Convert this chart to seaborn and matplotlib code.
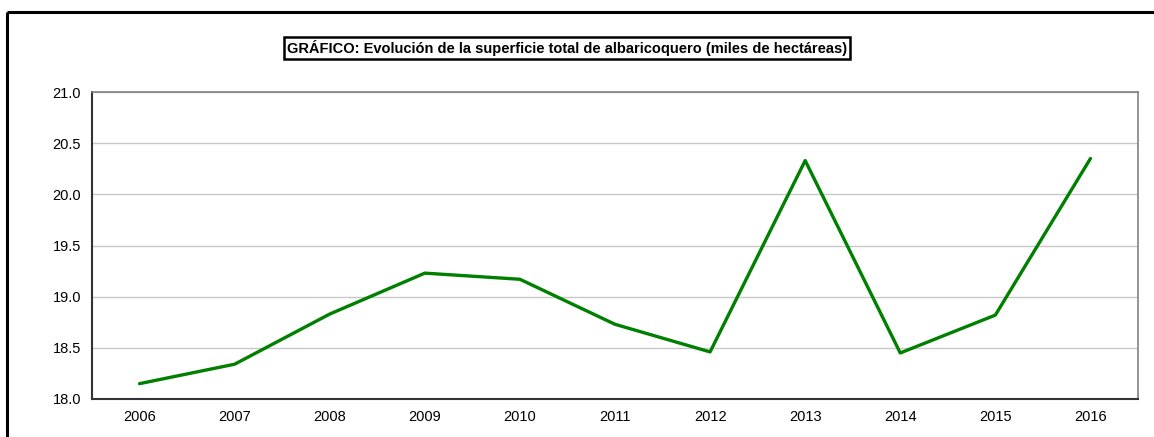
import numpy as np
import pandas as pd
import matplotlib
matplotlib.use("Agg")
import matplotlib.pyplot as plt
import seaborn as sns
from matplotlib.lines import Line2D

# data
years = [2006, 2007, 2008, 2009, 2010, 2011, 2012, 2013, 2014, 2015, 2016]
superficie = [18.15, 18.34, 18.83, 19.23, 19.17, 18.73, 18.46, 20.33, 18.45, 18.82, 20.35]
y_ticks = [18.0, 18.5, 19.0, 19.5, 20.0, 20.5, 21.0]

df = pd.DataFrame({"year": years, "superficie": superficie})

sns.set_style("white")
plt.rcParams['font.family'] = ['Liberation Sans', 'DejaVu Sans']

fig = plt.figure(figsize=(11.54, 4.37), dpi=100)
ax = fig.add_axes([92 / 1154, 38 / 437, 1046 / 1154, 307 / 437])

# outer frame, cropped at right and bottom: only top and left edges visible
frame_x = 7 / 1154
frame_y = 1 - 12 / 437
fig.add_artist(Line2D([frame_x, 1.05], [frame_y, frame_y], transform=fig.transFigure,
                      color="black", linewidth=2.2, solid_capstyle="butt"))
fig.add_artist(Line2D([frame_x, frame_x], [-0.05, frame_y], transform=fig.transFigure,
                      color="black", linewidth=2.2, solid_capstyle="butt"))

sns.lineplot(data=df, x="year", y="superficie", color="#008000", linewidth=2.4, ax=ax)

ax.set_xlim(years[0] - 0.5, years[-1] + 0.5)
ax.set_ylim(18.0, 21.0)
ax.set_yticks(y_ticks)
ax.set_yticklabels([f"{v:.1f}" for v in y_ticks], fontsize=10.5, color="black")
ax.set_xticks(years)
ax.set_xticklabels([str(y) for y in years], fontsize=10.5, color="black")
ax.set_xticks(np.arange(years[0] - 0.5, years[-1] + 1, 1), minor=True)
ax.tick_params(axis="x", which="major", length=0, pad=8)
ax.tick_params(axis="x", which="minor", length=4, width=1, color="#333333", direction="out")
ax.tick_params(axis="y", length=4, width=1, color="#333333", direction="out", pad=4)
ax.set_xlabel("")
ax.set_ylabel("")

ax.grid(axis="y", color="#c8c8c8", linewidth=1)
ax.set_axisbelow(True)
for side in ["left", "bottom"]:
    ax.spines[side].set_color("#333333")
    ax.spines[side].set_linewidth(1.5)
for side in ["top", "right"]:
    ax.spines[side].set_color("#808080")
    ax.spines[side].set_linewidth(1.2)

fig.text(567 / 1154, 1 - 48 / 437,
         "GRÁFICO: Evolución de la superficie total de albaricoquero (miles de hectáreas)",
         ha="center", va="center", fontsize=10.5, fontweight="bold", color="black",
         bbox=dict(boxstyle="square,pad=0.2", facecolor="white", edgecolor="black", linewidth=1.8))

fig.savefig("out.png", dpi=100)
